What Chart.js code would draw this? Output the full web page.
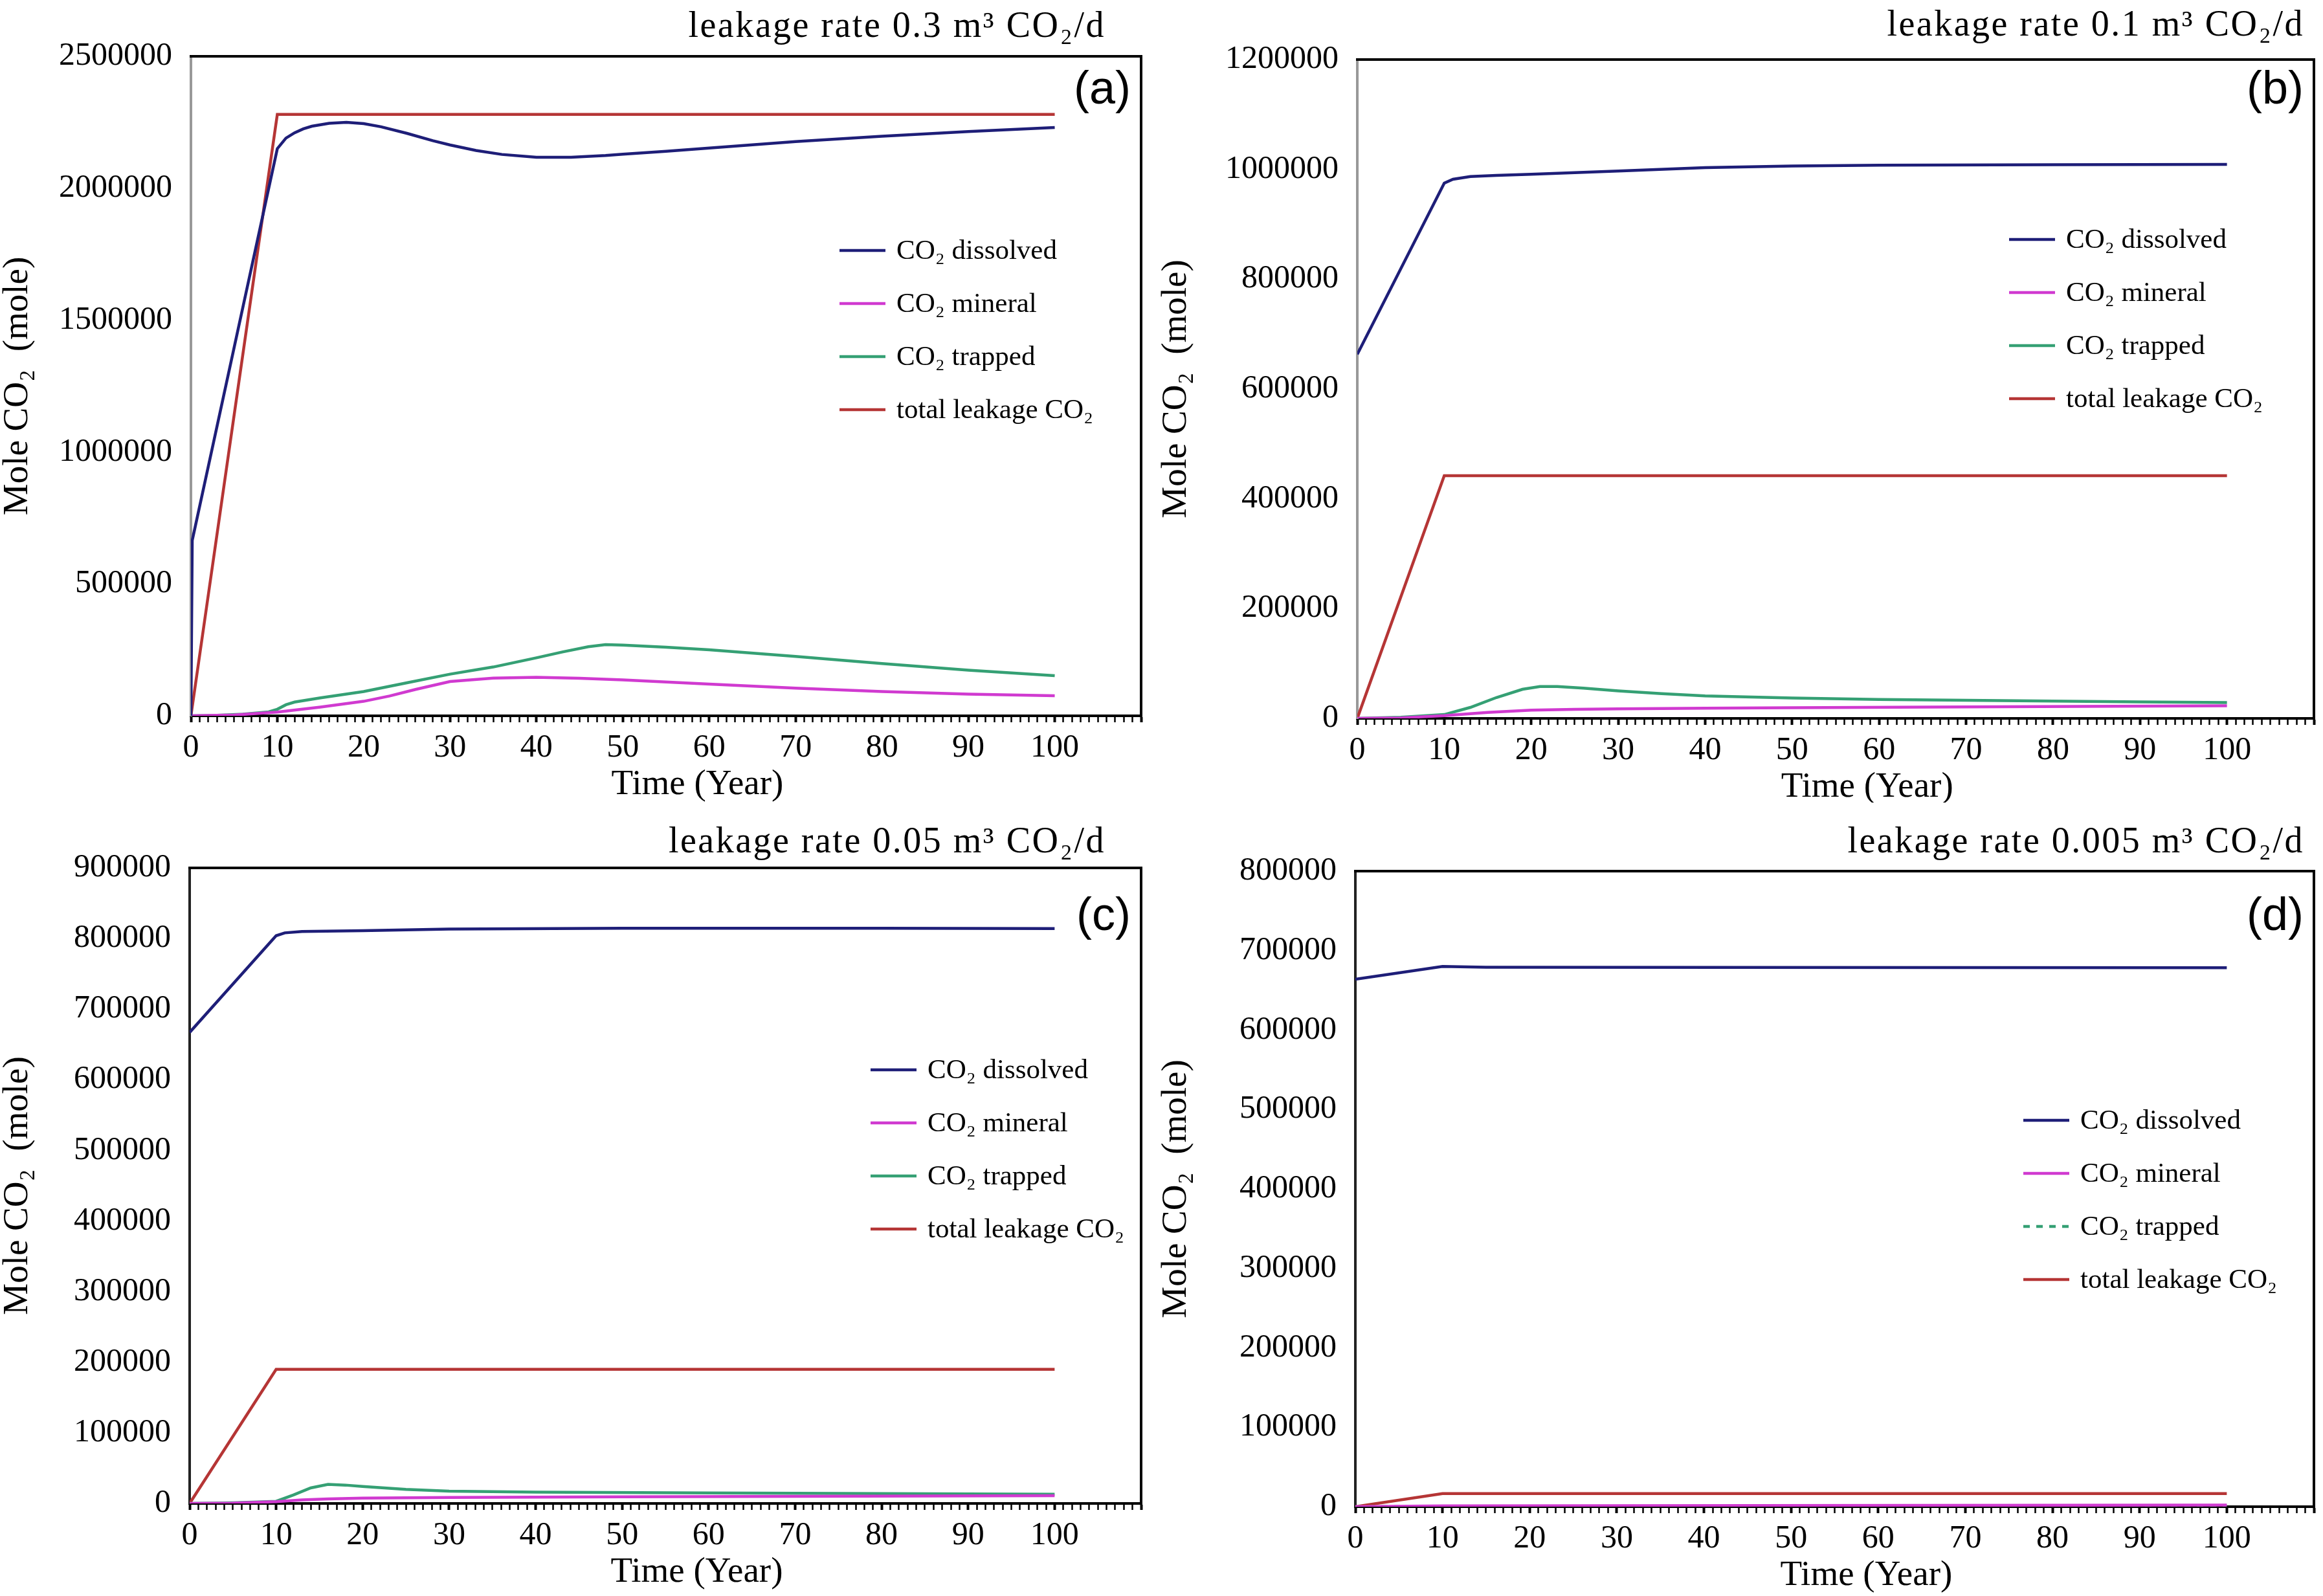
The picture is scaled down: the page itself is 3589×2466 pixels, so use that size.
<!DOCTYPE html>
<html>
<head>
<meta charset="utf-8">
<title>Mole CO2 vs time, four leakage rates</title>
<script src="https://cdn.jsdelivr.net/npm/chart.js@4.4.1/dist/chart.umd.min.js"></script>
<style>
  html, body { margin: 0; padding: 0; background: #fff; }
  body { width: 3589px; height: 2466px; position: relative; overflow: hidden; }
  .panel { position: absolute; }
</style>
</head>
<body>
<div class="panel" style="left:0;top:0;width:1790px;height:1240px"><canvas id="chartA" width="1790" height="1240"></canvas></div>
<div class="panel" style="left:1790px;top:0;width:1799px;height:1240px"><canvas id="chartB" width="1799" height="1240"></canvas></div>
<div class="panel" style="left:0;top:1240px;width:1790px;height:1226px"><canvas id="chartC" width="1790" height="1226"></canvas></div>
<div class="panel" style="left:1790px;top:1240px;width:1799px;height:1226px"><canvas id="chartD" width="1799" height="1226"></canvas></div>
<script>
// === series labels ===
const seriesLabels = ["CO\u2082 dissolved", "CO\u2082 mineral", "CO\u2082 trapped", "total leakage CO\u2082"];
const xTickLabels = [0, 10, 20, 30, 40, 50, 60, 70, 80, 90, 100];

// === panel (a): leakage rate 0.3 m3 CO2/d ===
const dissolvedA_t = [0, 0.15, 10, 11, 12, 13, 14, 16, 18, 20, 22, 25, 28, 30, 33, 36, 40, 44, 48, 50, 55, 60, 70, 80, 90, 100];
const dissolvedA = [0, 665000, 2150000, 2190000, 2210000, 2225000, 2235000, 2246000, 2250000, 2245000, 2233000, 2208000, 2180000, 2164000, 2143000, 2128000, 2117000, 2117000, 2124000, 2129000, 2140000, 2152000, 2177000, 2197000, 2215000, 2230000];
const mineralA_t = [0, 5, 10, 15, 20, 23, 26, 30, 35, 40, 45, 50, 60, 70, 80, 90, 100];
const mineralA = [0, 3000, 14000, 33000, 55000, 75000, 100000, 130000, 143000, 146000, 142000, 136000, 120000, 105000, 92000, 82000, 76000];
const trappedA_t = [0, 3, 6, 9, 10, 11, 12, 15, 20, 25, 30, 35, 40, 43, 46, 48, 50, 55, 60, 70, 80, 90, 100];
const trappedA = [0, 2000, 6000, 15000, 25000, 42000, 52000, 68000, 92000, 125000, 158000, 185000, 220000, 242000, 262000, 270000, 268000, 260000, 250000, 225000, 198000, 173000, 152000];
const leakageA_t = [0, 10, 100];
const leakageA = [0, 2280000, 2280000];

// === panel (b): leakage rate 0.1 m3 CO2/d ===
const dissolvedB_t = [0, 10, 11, 13, 16, 20, 30, 40, 50, 60, 80, 100];
const dissolvedB = [663000, 975000, 982000, 987000, 989000, 991000, 997000, 1003000, 1006000, 1007500, 1008500, 1009000];
const mineralB_t = [0, 5, 10, 15, 20, 25, 30, 40, 50, 70, 100];
const mineralB = [0, 1000, 5000, 11000, 15000, 16500, 17500, 18500, 19500, 21000, 23000];
const trappedB_t = [0, 5, 10, 13, 16, 19, 21, 23, 26, 30, 35, 40, 50, 60, 70, 80, 90, 100];
const trappedB = [0, 2000, 7000, 20000, 38000, 53000, 58000, 58000, 55000, 50000, 45000, 41000, 37000, 34500, 33000, 31500, 30000, 29000];
const leakageB_t = [0, 10, 100];
const leakageB = [0, 442000, 442000];

// === panel (c): leakage rate 0.05 m3 CO2/d ===
const dissolvedC_t = [0, 10, 11, 13, 20, 30, 50, 80, 100];
const dissolvedC = [667000, 804000, 808000, 810000, 811000, 813500, 814500, 814500, 814000];
const mineralC_t = [0, 5, 10, 13, 16, 20, 30, 50, 70, 100];
const mineralC = [0, 500, 2500, 5000, 6500, 7500, 8500, 9500, 10000, 11000];
const trappedC_t = [0, 5, 10, 12, 14, 16, 18, 20, 25, 30, 40, 60, 80, 100];
const trappedC = [0, 1000, 3000, 12000, 22000, 27000, 26000, 24000, 20000, 17500, 16000, 15000, 14000, 13000];
const leakageC_t = [0, 10, 100];
const leakageC = [0, 190000, 190000];

// === panel (d): leakage rate 0.005 m3 CO2/d ===
const dissolvedD_t = [0, 10, 15, 100];
const dissolvedD = [664000, 680000, 679000, 678500];
const mineralD_t = [0, 10, 100];
const mineralD = [0, 1000, 2000];
const trappedD_t = [0, 10, 100];
const trappedD = [0, 500, 1000];
const leakageD_t = [0, 10, 100];
const leakageD = [0, 16500, 16500];

const seriesColors = ["#1e1e78", "#d03ad0", "#35a074", "#b53535"];

const pts = (t, v) => t.map((x, i) => ({ x: x, y: v[i] }));

// frame, panel title, panel letter, x title and legend
const decorPlugin = {
  id: "decor",
  afterDraw(chart, args, o) {
    const { ctx, chartArea: a } = chart;
    ctx.save();
    ctx.strokeStyle = "#000";
    ctx.lineWidth = 4;
    ctx.beginPath();
    ctx.moveTo(a.left - 2, a.top);
    ctx.lineTo(a.right, a.top);
    ctx.lineTo(a.right, a.bottom + 2);
    ctx.stroke();

    ctx.fillStyle = "#000";
    ctx.textBaseline = "middle";
    ctx.textAlign = "right";
    ctx.font = '56px "Liberation Serif"';
    ctx.letterSpacing = "2.5px";
    ctx.fillText(o.title, a.right - o.titleDx, a.top - o.titleDy);
    ctx.letterSpacing = "0px";

    ctx.font = '72px "Liberation Sans"';
    ctx.fillText(o.letter, a.right - 16, a.top + o.letterDy);

    ctx.textAlign = "center";
    ctx.font = '55px "Liberation Serif"';
    ctx.fillText("Time (Year)", a.left + 0.533 * (a.right - a.left), a.bottom + 107);

    // legend
    ctx.textAlign = "left";
    ctx.font = '43px "Liberation Serif"';
    chart.data.datasets.forEach((ds, i) => {
      const y = o.legendY + i * 82;
      ctx.strokeStyle = ds.borderColor;
      ctx.lineWidth = 4.5;
      ctx.setLineDash(ds.borderDash || []);
      ctx.beginPath();
      ctx.moveTo(o.legendX, y);
      ctx.lineTo(o.legendX + 71, y);
      ctx.stroke();
      ctx.setLineDash([]);
      ctx.fillText(ds.label, o.legendX + 88, y + 2);
    });
    ctx.restore();
  }
};

function makeChart(id, p) {
  const series = [p.dissolved, p.mineral, p.trapped, p.leakage];
  const canvas = document.getElementById(id);
  return new Chart(canvas, {
    type: "line",
    data: {
      datasets: series.map((s, i) => ({
        label: seriesLabels[i],
        data: pts(s[0], s[1]),
        borderColor: seriesColors[i],
        borderWidth: 4.5,
        borderDash: (p.dashTrapped && i === 2) ? [10, 10] : [],
        pointRadius: 0,
        tension: 0,
        fill: false
      }))
    },
    options: {
      responsive: false,
      animation: false,
      devicePixelRatio: 1,
      layout: { padding: { top: p.top, right: p.right, left: 0, bottom: 0 } },
      plugins: {
        legend: { display: false },
        tooltip: { enabled: false },
        decor: p.decor
      },
      scales: {
        x: {
          type: "linear",
          min: 0,
          max: 110,
          afterFit: (scale) => { scale.height = canvas.height - p.bottom; },
          border: { color: "#000", width: 4 },
          grid: {
            drawOnChartArea: false,
            drawTicks: true,
            tickLength: 10,
            tickColor: "#000",
            tickWidth: (c) => (c.tick && c.tick.value % 10 === 0) ? 4 : 2.5
          },
          ticks: {
            stepSize: 1,
            autoSkip: false,
            maxRotation: 0,
            padding: 10,
            color: "#000",
            font: { family: "Liberation Serif", size: 50 },
            callback: (v) => xTickLabels.includes(v) ? String(v) : ""
          }
        },
        y: {
          min: 0,
          max: p.yMax,
          afterFit: (scale) => { scale.width = p.left; },
          border: { color: p.yAxisColor, width: 4 },
          grid: { drawOnChartArea: false, drawTicks: false },
          ticks: {
            stepSize: p.yStep,
            padding: 29,
            color: "#000",
            font: { family: "Liberation Serif", size: 50 },
            callback: (v) => String(v)
          },
          title: {
            display: true,
            text: "Mole CO\u2082  (mole)",
            color: "#000",
            padding: 0,
            font: { family: "Liberation Serif", size: 55, lineHeight: 1 }
          }
        }
      }
    },
    plugins: [decorPlugin]
  });
}

makeChart("chartA", {
  dissolved: [dissolvedA_t, dissolvedA], mineral: [mineralA_t, mineralA],
  trapped: [trappedA_t, trappedA], leakage: [leakageA_t, leakageA],
  yMax: 2500000, yStep: 500000, left: 295, right: 27, top: 87, bottom: 1106, yAxisColor: "#999",
  decor: { title: "leakage rate 0.3 m\u00B3 CO\u2082/d", titleDx: 55, titleDy: 45, letter: "(a)", letterDy: 53, legendX: 1297, legendY: 387 }
});
makeChart("chartB", {
  dissolved: [dissolvedB_t, dissolvedB], mineral: [mineralB_t, mineralB],
  trapped: [trappedB_t, trappedB], leakage: [leakageB_t, leakageB],
  yMax: 1200000, yStep: 200000, left: 307, right: 14, top: 92, bottom: 1110, yAxisColor: "#999",
  decor: { title: "leakage rate 0.1 m\u00B3 CO\u2082/d", titleDx: 15, titleDy: 52, letter: "(b)", letterDy: 48, legendX: 1314, legendY: 370 }
});
makeChart("chartC", {
  dissolved: [dissolvedC_t, dissolvedC], mineral: [mineralC_t, mineralC],
  trapped: [trappedC_t, trappedC], leakage: [leakageC_t, leakageC],
  yMax: 900000, yStep: 100000, left: 293, right: 27, top: 101, bottom: 1083, yAxisColor: "#222",
  decor: { title: "leakage rate 0.05 m\u00B3 CO\u2082/d", titleDx: 55, titleDy: 39, letter: "(c)", letterDy: 76, legendX: 1345, legendY: 413 }
});
makeChart("chartD", {
  dissolved: [dissolvedD_t, dissolvedD], mineral: [mineralD_t, mineralD],
  trapped: [trappedD_t, trappedD], leakage: [leakageD_t, leakageD],
  yMax: 800000, yStep: 100000, left: 304, right: 14, top: 106, bottom: 1088, yAxisColor: "#222",
  dashTrapped: true,
  decor: { title: "leakage rate 0.005 m\u00B3 CO\u2082/d", titleDx: 15, titleDy: 44, letter: "(d)", letterDy: 71, legendX: 1336, legendY: 491 }
});
</script>
</body>
</html>
